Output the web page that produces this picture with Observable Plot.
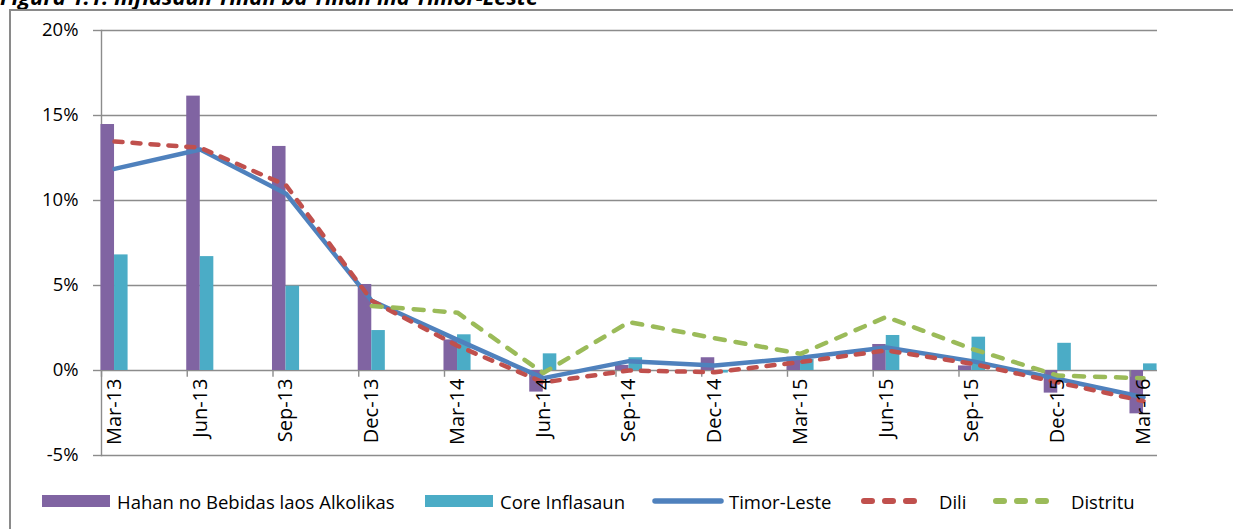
<!DOCTYPE html>
<html><head><meta charset="utf-8">
<script src="https://cdn.jsdelivr.net/npm/d3@7"></script>
<script src="https://cdn.jsdelivr.net/npm/@observablehq/plot@0.6"></script>
<style>
html,body{margin:0;padding:0;background:#fff;}
#page{position:relative;width:1233px;height:529px;overflow:hidden;background:#fff;font-family:"Open Sans",sans-serif;}
#title{position:absolute;left:0;top:-19px;font:bold italic 22px "Open Sans",sans-serif;white-space:nowrap;color:#000;}
#frame{position:absolute;left:9px;top:9px;width:1400px;height:700px;border-left:2px solid #8a8a8a;border-top:2px solid #8a8a8a;}
#chart{position:absolute;left:0;top:0;}
.leg{position:absolute;top:490px;height:22px;display:flex;align-items:center;font-size:18.5px;color:#000;white-space:nowrap;}
.leg svg{display:block;}
</style></head>
<body>
<div id="page">
  <div id="title">Figura 1.1: Inflasaun Tinan ba Tinan iha Timor-Leste</div>
  <div id="frame"></div>
  <div id="chart"></div>
  <div id="legend"></div>
</div>
<script>
const categories = ["Mar-13","Jun-13","Sep-13","Dec-13","Mar-14","Jun-14","Sep-14","Dec-14","Mar-15","Jun-15","Sep-15","Dec-15","Mar-16"];
const hahan = [14.47, 16.14, 13.18, 5.06, 1.8, -1.27, 0.3, 0.75, 0.78, 1.53, 0.27, -1.33, -2.55];
const core = [6.8, 6.7, 4.96, 2.35, 2.1, 0.98, 0.75, -0.15, 0.65, 2.06, 1.96, 1.6, 0.39];
const timorLeste = [11.86, 13.0, 10.4, 4.1, 1.8, -0.45, 0.55, 0.3, 0.75, 1.35, 0.55, -0.5, -1.57];
const dili = [13.47, 13.1, 10.9, 4.1, 1.45, -0.7, 0.0, -0.1, 0.5, 1.18, 0.4, -0.7, -1.8];
const distritu = [null, null, null, 3.8, 3.4, -0.15, 2.85, 1.9, 0.98, 3.15, 1.27, -0.3, -0.45];
const yTicks = [-5, 0, 5, 10, 15, 20];
const seriesNames = ["Hahan no Bebidas laos Alkolikas", "Core Inflasaun", "Timor-Leste", "Dili", "Distritu"];
const colors = ["#8064A2", "#4BACC6", "#4F81BD", "#C0504D", "#9BBB59"];

const idx = categories.map((c, i) => i);
const W = 0.158;
const grid = "#8c8c8c";

const chart = Plot.plot({
  width: 1233, height: 475,
  marginLeft: 101, marginRight: 76, marginTop: 30, marginBottom: 20,
  style: {fontFamily: "'Open Sans', sans-serif", color: "#000", background: "transparent"},
  x: {type: "linear", domain: [-0.152, 12.163], axis: null},
  y: {domain: [-5, 20], axis: null},
  marks: [
    Plot.ruleY(yTicks, {stroke: grid, strokeWidth: 1.4}),
    Plot.axisY({ticks: yTicks, tickFormat: d => d + "%", tickSize: 8, tickPadding: 15, stroke: grid, strokeWidth: 1.4, fontSize: 18.5, label: null, fill: "#000"}),
    Plot.frame({anchor: "left", stroke: grid, strokeWidth: 1.4}),
    Plot.rectY(idx, {x1: i => i - W, x2: i => i, y1: 0, y2: i => hahan[i], fill: colors[0]}),
    Plot.rectY(idx, {x1: i => i, x2: i => i + W, y1: 0, y2: i => core[i], fill: colors[1]}),
    Plot.ruleX(idx, {x: i => i - 0.152, y1: 0, y2: -0.4, stroke: grid, strokeWidth: 1.4}),
    Plot.line(idx, {x: i => i, y: i => timorLeste[i], stroke: colors[2], strokeWidth: 4.5, strokeLinejoin: "round"}),
    Plot.line(idx, {x: i => i, y: i => dili[i], stroke: colors[3], strokeWidth: 4.5, strokeDasharray: "8,10", strokeLinecap: "round", strokeLinejoin: "round"}),
    Plot.line(idx.filter(i => distritu[i] != null), {x: i => i, y: i => distritu[i], stroke: colors[4], strokeWidth: 4.5, strokeDasharray: "10,11", strokeLinecap: "round", strokeLinejoin: "round"}),
    Plot.text(idx, {x: i => i, y: 0, text: i => categories[i], rotate: -90, textAnchor: "end", lineAnchor: "middle", dy: 8, fontSize: 20, fill: "#000"})
  ]
});
document.getElementById("chart").appendChild(chart);

// Legend
const legend = document.getElementById("legend");
const legPos = [42, 425, 652, 860, 992];
const legTextPos = [117, 500, 729, 939, 1071];
seriesNames.forEach((name, k) => {
  const sw = document.createElement("div");
  sw.className = "leg";
  sw.style.left = legPos[k] + "px";
  let svg;
  if (k < 2) {
    svg = `<svg width="68" height="22"><rect x="0" y="5" width="68" height="12" fill="${colors[k]}"/></svg>`;
  } else if (k === 2) {
    svg = `<svg width="72" height="22"><line x1="3" x2="69" y1="11" y2="11" stroke="${colors[k]}" stroke-width="5.5" stroke-linecap="round"/></svg>`;
  } else {
    svg = `<svg width="64" height="22"><line x1="4" x2="60" y1="11" y2="11" stroke="${colors[k]}" stroke-width="6" stroke-linecap="round" stroke-dasharray="8,13"/></svg>`;
  }
  sw.innerHTML = svg;
  legend.appendChild(sw);
  const t = document.createElement("div");
  t.className = "leg";
  t.style.left = legTextPos[k] + "px";
  t.textContent = name;
  legend.appendChild(t);
});
</script>
</body></html>
